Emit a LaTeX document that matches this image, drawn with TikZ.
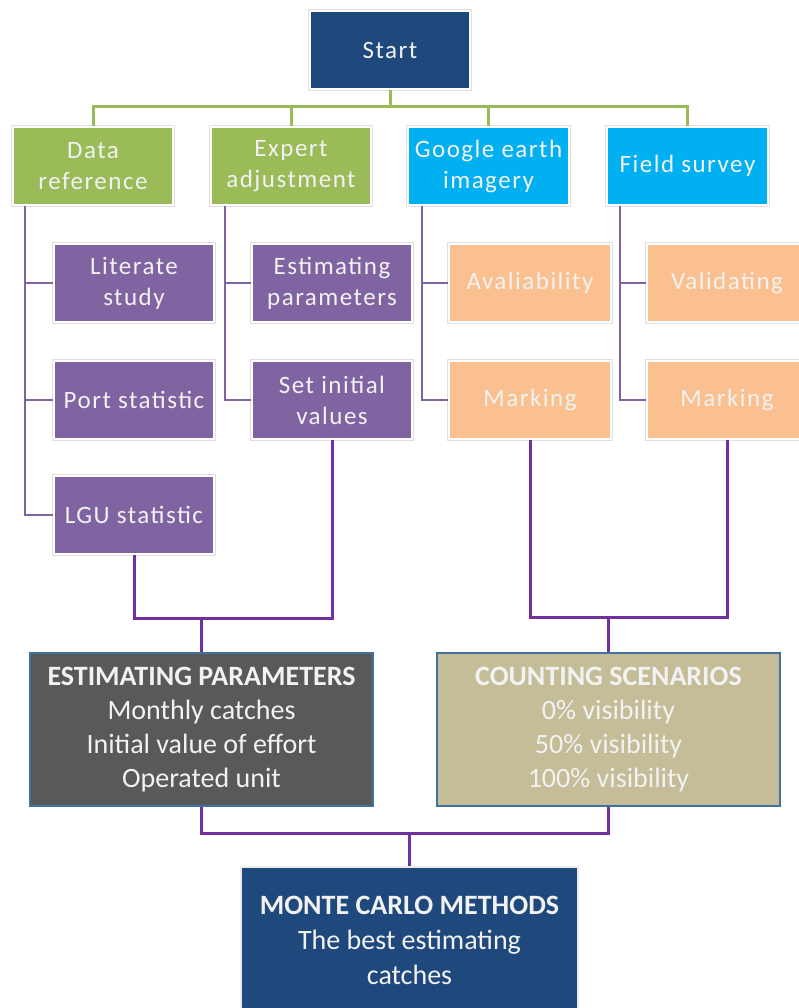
\documentclass[tikz,border=0pt]{standalone}
\usepackage{fontspec}
\setmainfont{Carlito}
\newfontfamily\boxfont{Carlito}[LetterSpace=6]
\usetikzlibrary{calc}

\definecolor{navy}{HTML}{1F497D}
\definecolor{leaf}{HTML}{9BBB59}
\definecolor{sky}{HTML}{00B0F0}
\definecolor{plum}{HTML}{8064A2}
\definecolor{peach}{HTML}{FAC090}
\definecolor{slate}{HTML}{595959}
\definecolor{sand}{HTML}{C4BD97}
\definecolor{edge}{HTML}{41719C}
\definecolor{joinviolet}{HTML}{7030A0}

\begin{document}
\begin{tikzpicture}[x=1pt, y=-1pt,
  box/.style={rectangle, draw=white, line width=2pt,
    preaction={draw=black!12, line width=4pt},
    text=white!95!black, align=center, inner sep=0pt,
    minimum width=160pt, minimum height=78pt,
    font=\boxfont\fontsize{25}{31}\selectfont},
  bigbox/.style={rectangle, draw=edge, line width=2pt, text=white!95!black,
    align=center, inner sep=0pt, minimum width=343pt, minimum height=153pt,
    font=\fontsize{28}{34}\selectfont},
  busline/.style={draw=leaf, line width=3pt},
  colline/.style={draw=plum, line width=2.5pt},
  joinline/.style={draw=joinviolet, line width=3pt}]

  \useasboundingbox (0,0) rectangle (798,1008);

  % top row
  \node[box, fill=navy] (start) at (390,50) {Start};
  \node[box, fill=leaf] (dataref) at (93,166) {Data\\reference};
  \node[box, fill=leaf] (expert) at (291,166) {Expert\\adjustment};
  \node[box, fill=sky, minimum width=161pt] (google) at (488.5,166) {Google earth\\imagery};
  \node[box, fill=sky, minimum width=161pt] (field) at (687.5,166) {Field survey};

  % second level
  \node[box, fill=plum] (literate) at (134,283) {Literate\\study};
  \node[box, fill=plum] (port) at (134,400) {Port statistic};
  \node[box, fill=plum] (lgu) at (134,515) {LGU statistic};
  \node[box, fill=plum] (estpar) at (332,283) {Estimating\\parameters};
  \node[box, fill=plum] (setinit) at (332,400) {Set initial\\values};
  \node[box, fill=peach, minimum width=162pt] (avail) at (530,283) {Avaliability};
  \node[box, fill=peach, minimum width=162pt] (markg) at (530,400) {Marking};
  \node[box, fill=peach] (valid) at (727,283) {Validating};
  \node[box, fill=peach] (markf) at (727,400) {Marking};

  % bottom
  \node[bigbox, fill=slate] (estimating) at (201.5,729.5)
    {\textbf{ESTIMATING PARAMETERS}\\Monthly catches\\Initial value of effort\\Operated unit};
  \node[bigbox, fill=sand] (counting) at (608.5,729.5)
    {\textbf{COUNTING SCENARIOS}\\0\% visibility\\50\% visibility\\100\% visibility};
  \node[bigbox, fill=navy, draw=black!8, minimum width=337pt, minimum height=146pt,
    font=\fontsize{28}{35}\selectfont] (monte) at (409.5,940)
    {\textbf{MONTE CARLO METHODS}\\The best estimating\\catches};

  % connectors
  \coordinate (gbus) at (390,107);
  \draw[busline] (start.south) -- (gbus);
  \foreach \n in {dataref,expert,google,field}
    \draw[busline] (gbus) -| (\n.north);

  \draw[colline] ([xshift=13pt]dataref.south west) |- (literate.west);
  \draw[colline] ([xshift=13pt]dataref.south west) |- (port.west);
  \draw[colline] ([xshift=13pt]dataref.south west) |- (lgu.west);
  \draw[colline] ([xshift=15pt]expert.south west) |- (estpar.west);
  \draw[colline] ([xshift=15pt]expert.south west) |- (setinit.west);
  \draw[colline] ([xshift=15pt]google.south west) |- (avail.west);
  \draw[colline] ([xshift=15pt]google.south west) |- (markg.west);
  \draw[colline] ([xshift=14pt]field.south west) |- (valid.west);
  \draw[colline] ([xshift=14pt]field.south west) |- (markf.west);

  \coordinate (jleft) at (201.5,618);
  \coordinate (jright) at (608.5,617);
  \coordinate (jlow) at (409.5,833);
  \draw[joinline] (lgu.south) |- (jleft) -| (setinit.south);
  \draw[joinline] (jleft) -- (estimating.north);
  \draw[joinline] (markg.south) |- (jright) -| (markf.south);
  \draw[joinline] (jright) -- (counting.north);
  \draw[joinline] (estimating.south) |- (jlow) -| (counting.south);
  \draw[joinline] (jlow) -- (monte.north);
\end{tikzpicture}
\end{document}
